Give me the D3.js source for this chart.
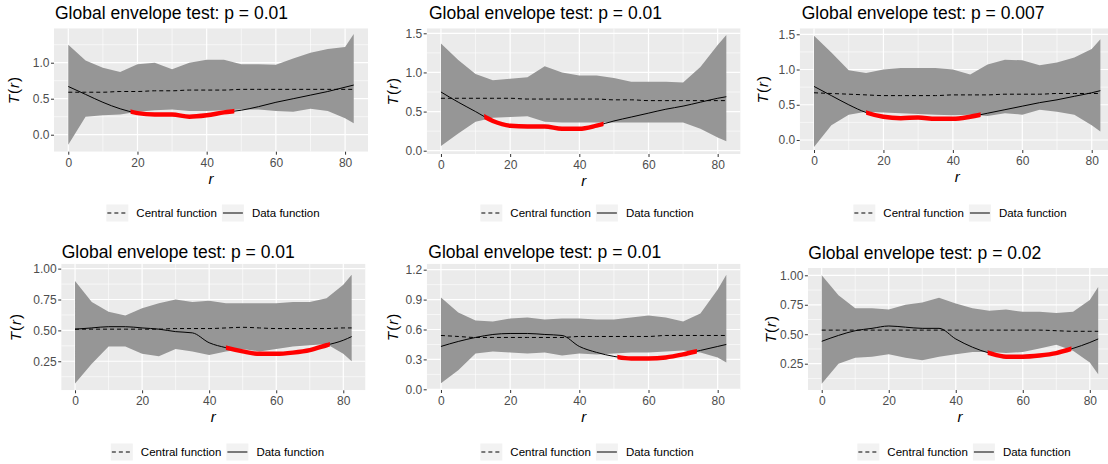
<!DOCTYPE html>
<html>
<head>
<meta charset="utf-8">
<script src="https://cdn.jsdelivr.net/npm/d3@7"></script>
<style>
  body { margin: 0; background: #fff; }
  svg { display: block; font-family: "Liberation Sans", Arial, sans-serif; }
</style>
</head>
<body>
<svg id="chart" width="1108" height="464"></svg>
<script>
var rGrid = [0, 5, 10, 15, 20, 25, 30, 35, 40, 45, 50, 55, 60, 65, 70, 75, 80, 82.5];

var pValues = ["0.01", "0.01", "0.007", "0.01", "0.01", "0.02"];
var xTicks = [0, 20, 40, 60, 80];
var yTickLabels = [
  ["0.0", "0.5", "1.0"],
  ["0.0", "0.5", "1.0", "1.5"],
  ["0.0", "0.5", "1.0", "1.5"],
  ["0.25", "0.50", "0.75", "1.00"],
  ["0.0", "0.3", "0.6", "0.9", "1.2"],
  ["0.25", "0.50", "0.75", "1.00"]
];
var legendLabels = ["Central function", "Data function"];

// envelope upper / lower bounds
var upperEnv = [
  [1.25, 1.03, 0.93, 0.87, 0.98, 1.00, 0.91, 1.00, 1.04, 1.04, 0.98, 0.98, 0.97, 1.06, 1.14, 1.19, 1.22, 1.40],
  [1.37, 1.16, 0.98, 0.90, 0.92, 0.94, 1.08, 1.00, 0.96, 0.96, 0.93, 0.88, 0.88, 0.88, 0.87, 1.07, 1.35, 1.48],
  [1.48, 1.24, 0.99, 0.95, 1.00, 1.02, 1.02, 1.02, 1.00, 0.93, 1.07, 1.14, 1.13, 1.06, 1.10, 1.17, 1.29, 1.43],
  [0.90, 0.73, 0.65, 0.62, 0.68, 0.72, 0.75, 0.73, 0.74, 0.72, 0.72, 0.72, 0.72, 0.73, 0.73, 0.76, 0.87, 0.95],
  [0.92, 0.77, 0.69, 0.68, 0.71, 0.72, 0.70, 0.71, 0.71, 0.70, 0.70, 0.72, 0.74, 0.72, 0.68, 0.76, 1.00, 1.15],
  [1.00, 0.83, 0.72, 0.72, 0.71, 0.75, 0.77, 0.81, 0.76, 0.72, 0.70, 0.71, 0.69, 0.69, 0.68, 0.69, 0.79, 0.90]
];
var lowerEnv = [
  [-0.14, 0.25, 0.27, 0.28, 0.32, 0.34, 0.35, 0.33, 0.33, 0.34, 0.35, 0.35, 0.33, 0.32, 0.36, 0.33, 0.23, 0.16],
  [0.06, 0.22, 0.37, 0.42, 0.43, 0.44, 0.37, 0.36, 0.36, 0.36, 0.36, 0.36, 0.36, 0.36, 0.36, 0.28, 0.17, 0.12],
  [-0.10, 0.21, 0.36, 0.40, 0.39, 0.38, 0.37, 0.36, 0.35, 0.36, 0.34, 0.38, 0.36, 0.43, 0.40, 0.36, 0.21, 0.12],
  [0.07, 0.23, 0.37, 0.37, 0.31, 0.29, 0.35, 0.33, 0.30, 0.33, 0.35, 0.33, 0.35, 0.37, 0.38, 0.39, 0.31, 0.25],
  [0.06, 0.19, 0.36, 0.38, 0.37, 0.36, 0.37, 0.34, 0.36, 0.35, 0.36, 0.37, 0.37, 0.38, 0.39, 0.37, 0.32, 0.27],
  [0.08, 0.25, 0.30, 0.31, 0.33, 0.30, 0.28, 0.31, 0.33, 0.35, 0.35, 0.34, 0.35, 0.38, 0.41, 0.36, 0.26, 0.16]
];
var centralFn = [
  [0.59, 0.59, 0.59, 0.60, 0.60, 0.61, 0.61, 0.62, 0.62, 0.62, 0.63, 0.63, 0.63, 0.63, 0.63, 0.63, 0.63, 0.63],
  [0.67, 0.67, 0.67, 0.67, 0.67, 0.66, 0.66, 0.66, 0.66, 0.66, 0.65, 0.65, 0.64, 0.64, 0.64, 0.64, 0.64, 0.64],
  [0.67, 0.66, 0.65, 0.64, 0.63, 0.63, 0.63, 0.63, 0.64, 0.64, 0.64, 0.65, 0.65, 0.65, 0.66, 0.66, 0.66, 0.66],
  [0.51, 0.51, 0.51, 0.51, 0.51, 0.51, 0.515, 0.515, 0.515, 0.52, 0.525, 0.52, 0.515, 0.515, 0.515, 0.515, 0.52, 0.52],
  [0.54, 0.53, 0.52, 0.52, 0.52, 0.52, 0.52, 0.52, 0.53, 0.53, 0.53, 0.53, 0.53, 0.54, 0.54, 0.54, 0.54, 0.54],
  [0.535, 0.535, 0.535, 0.535, 0.535, 0.535, 0.535, 0.535, 0.535, 0.535, 0.535, 0.535, 0.535, 0.535, 0.53, 0.525, 0.525, 0.525]
];
var dataFn = [
  [0.67, 0.56, 0.45, 0.36, 0.30, 0.28, 0.28, 0.25, 0.27, 0.31, 0.34, 0.39, 0.45, 0.50, 0.55, 0.60, 0.66, 0.69],
  [0.75, 0.62, 0.50, 0.38, 0.32, 0.31, 0.31, 0.28, 0.28, 0.32, 0.38, 0.43, 0.48, 0.53, 0.57, 0.62, 0.67, 0.69],
  [0.76, 0.63, 0.50, 0.39, 0.33, 0.31, 0.32, 0.30, 0.30, 0.33, 0.38, 0.43, 0.48, 0.53, 0.57, 0.62, 0.67, 0.70],
  [0.51, 0.52, 0.53, 0.53, 0.52, 0.51, 0.49, 0.48, 0.40, 0.36, 0.33, 0.31, 0.31, 0.32, 0.34, 0.38, 0.42, 0.45],
  [0.43, 0.48, 0.52, 0.55, 0.56, 0.56, 0.55, 0.54, 0.43, 0.37, 0.33, 0.31, 0.31, 0.32, 0.35, 0.39, 0.43, 0.45],
  [0.44, 0.49, 0.53, 0.55, 0.57, 0.56, 0.55, 0.55, 0.46, 0.39, 0.34, 0.31, 0.31, 0.32, 0.34, 0.38, 0.43, 0.46]
];
// r ranges where the data function leaves the envelope
var outsideSpans = [[18, 48], [12.5, 47], [15, 48], [45, 76], [51, 74], [49.5, 74.5]];

// scale limits (ggplot adds 5% each side)
var xLimits = [-4.125, 86.625];
var yLimits = [[-0.236, 1.478], [-0.042, 1.564], [-0.142, 1.585], [0.015, 1.04], [-0.007, 1.26], [0.027, 1.062]];

// panel layout: plot box [left, top, right, bottom]
var layout = [
  {box: [54, 28.3, 368, 151.7], titleX: 55, titleY: 19, ylabX: 14, legendX: 213, legendY: 213},
  {box: [426.7, 28.3, 740.6, 154], titleX: 429, titleY: 19, ylabX: 392.5, legendX: 587, legendY: 213},
  {box: [799.7, 28.3, 1114.7, 150], titleX: 801.7, titleY: 19, ylabX: 763, legendX: 960, legendY: 213},
  {box: [61.2, 263.7, 365.5, 390.3], titleX: 61.7, titleY: 257.5, ylabX: 15.3, legendX: 217.5, legendY: 452},
  {box: [426.7, 263.7, 740.6, 390], titleX: 428.3, titleY: 257.5, ylabX: 393, legendX: 587, legendY: 452},
  {box: [807.9, 268, 1112, 390], titleX: 808.3, titleY: 258.5, ylabX: 771, legendX: 964, legendY: 452}
];

function minorBreaks(ticks, lim) {
  var step = ticks[1] - ticks[0];
  var ext = [ticks[0] - step].concat(ticks, [ticks[ticks.length - 1] + step]);
  var out = [];
  for (var k = 0; k < ext.length - 1; k++) {
    var m = (ext[k] + ext[k + 1]) / 2;
    if (m > lim[0] && m < lim[1]) out.push(m);
  }
  return out;
}

function drawPanel(svg, i) {
  var L = layout[i];
  var b = L.box;
  var yTicks = yTickLabels[i].map(Number);

  var x = d3.scaleLinear().domain(xLimits).range([b[0], b[2]]);
  var y = d3.scaleLinear().domain(yLimits[i]).range([b[3], b[1]]);

  var pts = rGrid.map(function(r, k) {
    return {r: r, hi: upperEnv[i][k], lo: lowerEnv[i][k], c: centralFn[i][k], d: dataFn[i][k]};
  });

  var defs = svg.append("defs");
  defs.append("clipPath").attr("id", "plot" + i)
    .append("rect")
      .attr("x", b[0]).attr("y", b[1])
      .attr("width", b[2] - b[0]).attr("height", b[3] - b[1]);
  defs.append("clipPath").attr("id", "out" + i)
    .append("rect")
      .attr("x", x(outsideSpans[i][0])).attr("y", b[1])
      .attr("width", x(outsideSpans[i][1]) - x(outsideSpans[i][0]))
      .attr("height", b[3] - b[1]);

  var g = svg.append("g").attr("clip-path", "url(#plot" + i + ")");

  g.append("rect")
      .attr("x", b[0]).attr("y", b[1])
      .attr("width", b[2] - b[0]).attr("height", b[3] - b[1])
      .attr("fill", "#EBEBEB");

  // grid
  g.selectAll(".xminor").data(minorBreaks(xTicks, xLimits)).enter()
    .append("line")
      .attr("x1", d => x(d)).attr("x2", d => x(d))
      .attr("y1", b[1]).attr("y2", b[3])
      .attr("stroke", "#fff").attr("stroke-width", 0.6);
  g.selectAll(".yminor").data(minorBreaks(yTicks, yLimits[i])).enter()
    .append("line")
      .attr("x1", b[0]).attr("x2", b[2])
      .attr("y1", d => y(d)).attr("y2", d => y(d))
      .attr("stroke", "#fff").attr("stroke-width", 0.6);
  g.selectAll(".xmajor").data(xTicks).enter()
    .append("line")
      .attr("x1", d => x(d)).attr("x2", d => x(d))
      .attr("y1", b[1]).attr("y2", b[3])
      .attr("stroke", "#fff").attr("stroke-width", 1.2);
  g.selectAll(".ymajor").data(yTicks).enter()
    .append("line")
      .attr("x1", b[0]).attr("x2", b[2])
      .attr("y1", d => y(d)).attr("y2", d => y(d))
      .attr("stroke", "#fff").attr("stroke-width", 1.2);

  // envelope
  g.append("path")
      .datum(pts)
      .attr("fill", "#969696")
      .attr("d", d3.area().x(d => x(d.r)).y0(d => y(d.lo)).y1(d => y(d.hi)));

  var central = d3.line().x(d => x(d.r)).y(d => y(d.c)).curve(d3.curveMonotoneX);
  var dataLine = d3.line().x(d => x(d.r)).y(d => y(d.d)).curve(d3.curveMonotoneX);

  g.append("path")
      .datum(pts)
      .attr("fill", "none")
      .attr("stroke", "#000")
      .attr("stroke-width", 1)
      .attr("stroke-dasharray", "4,3")
      .attr("d", central);

  g.append("path")
      .datum(pts)
      .attr("fill", "none")
      .attr("stroke", "#000")
      .attr("stroke-width", 1)
      .attr("d", dataLine);

  g.append("g").attr("clip-path", "url(#out" + i + ")")
    .append("path")
      .datum(pts)
      .attr("fill", "none")
      .attr("stroke", "red")
      .attr("stroke-width", 4.5)
      .attr("d", dataLine);

  // axes
  var ax = svg.append("g")
      .attr("transform", "translate(0," + b[3] + ")")
      .call(d3.axisBottom(x).tickValues(xTicks).tickSize(3).tickPadding(3.5));
  var ay = svg.append("g")
      .attr("transform", "translate(" + b[0] + ",0)")
      .call(d3.axisLeft(y).tickValues(yTicks)
        .tickFormat((d, j) => yTickLabels[i][j]).tickSize(3).tickPadding(1.5));
  [ax, ay].forEach(function(a) {
    a.select(".domain").remove();
    a.selectAll(".tick line").attr("stroke", "#333").attr("stroke-width", 1);
    a.selectAll(".tick text")
        .attr("fill", "#4D4D4D")
        .attr("font-size", "12px")
        .attr("font-family", "Liberation Sans, Arial, sans-serif");
  });

  // titles
  svg.append("text")
      .attr("x", L.titleX)
      .attr("y", L.titleY)
      .attr("font-size", "17.5px")
      .attr("fill", "#000")
      .text("Global envelope test: p = " + pValues[i]);

  svg.append("text")
      .attr("x", (b[0] + b[2]) / 2)
      .attr("y", b[3] + 32)
      .attr("text-anchor", "middle")
      .attr("font-size", "15px")
      .attr("font-style", "italic")
      .text("r");

  var yl = svg.append("text")
      .attr("transform", "translate(" + L.ylabX + "," + (b[1] + b[3]) / 2 + ") rotate(-90)")
      .attr("text-anchor", "middle")
      .attr("dy", "0.35em")
      .attr("font-size", "15px")
      .attr("letter-spacing", "1px");
  yl.append("tspan").attr("font-style", "italic").text("T");
  yl.append("tspan").text("(");
  yl.append("tspan").attr("font-style", "italic").text("r");
  yl.append("tspan").text(")");

  drawLegend(svg, L.legendX, L.legendY);
}

function drawLegend(svg, cx, cy) {
  var g = svg.append("g");
  var pos = 0;
  legendLabels.forEach(function(label, k) {
    g.append("rect")
        .attr("x", pos).attr("y", cy - 8.5)
        .attr("width", 22).attr("height", 17)
        .attr("fill", "#F2F2F2");
    g.append("line")
        .attr("x1", pos + 1).attr("x2", pos + 21)
        .attr("y1", cy).attr("y2", cy)
        .attr("stroke", "#000")
        .attr("stroke-width", 1)
        .attr("stroke-dasharray", k === 0 ? "4,3" : null);
    var t = g.append("text")
        .attr("x", pos + 30)
        .attr("y", cy + 4)
        .attr("font-size", "11.5px")
        .attr("fill", "#000")
        .text(label);
    pos += 30 + t.node().getComputedTextLength() + 5;
  });
  var total = pos - 5;
  g.attr("transform", "translate(" + (cx - total / 2) + ",0)");
}

var svg = d3.select("#chart");
for (var i = 0; i < 6; i++) drawPanel(svg, i);
</script>
</body>
</html>
